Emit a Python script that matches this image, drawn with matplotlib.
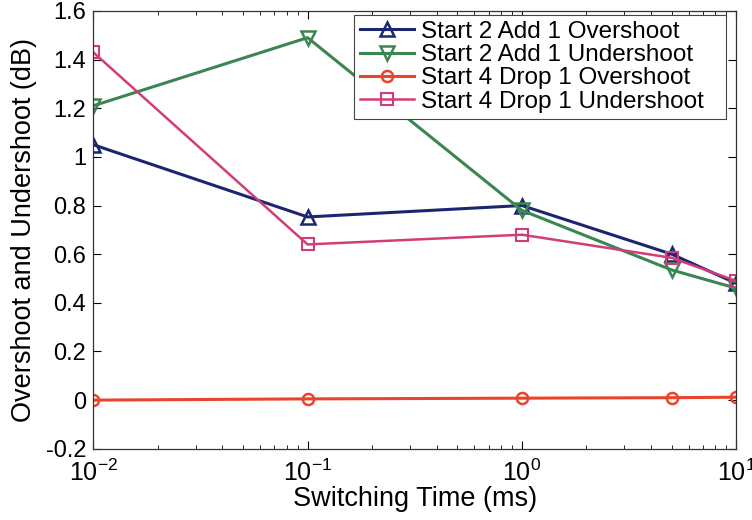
import matplotlib
matplotlib.use("Agg")
import matplotlib.pyplot as plt
from matplotlib.ticker import LogLocator, NullFormatter, FixedLocator, FixedFormatter

plt.rcParams['font.family'] = ['Liberation Sans', 'DejaVu Sans']
plt.rcParams['mathtext.fontset'] = 'custom'
plt.rcParams['mathtext.rm'] = 'Liberation Sans'
plt.rcParams['mathtext.it'] = 'Liberation Sans:italic'
plt.rcParams['mathtext.bf'] = 'Liberation Sans:bold'
plt.rcParams['axes.unicode_minus'] = False

switching_time = [0.01, 0.1, 1, 5, 10]
s2a1_over = [1.05, 0.753, 0.80, 0.60, 0.48]
s2a1_under = [1.21, 1.49, 0.78, 0.535, 0.46]
s4d1_over = [0.0, 0.005, 0.008, 0.01, 0.012]
s4d1_under = [1.43, 0.64, 0.68, 0.585, 0.49]

labels = ["Start 2 Add 1 Overshoot", "Start 2 Add 1 Undershoot",
          "Start 4 Drop 1 Overshoot", "Start 4 Drop 1 Undershoot"]
yticks = [-0.2, 0, 0.2, 0.4, 0.6, 0.8, 1, 1.2, 1.4, 1.6]
ytick_labels = ["-0.2", "0", "0.2", "0.4", "0.6", "0.8", "1", "1.2", "1.4", "1.6"]
xticks = [0.01, 0.1, 1, 10]
xtick_labels = [r"$10^{-2}$", r"$10^{-1}$", r"$10^{0}$", r"$10^{1}$"]

fig = plt.figure(figsize=(7.52, 5.2), dpi=100)
ax = fig.add_axes([0.124, 0.137, 0.855, 0.842])

ax.plot(switching_time, s2a1_over, color='#1c2670', lw=2.2, marker='^', ms=10,
        mfc='none', mew=1.8, label=labels[0])
ax.plot(switching_time, s2a1_under, color='#3a8650', lw=2.2, marker='v', ms=10,
        mfc='none', mew=1.8, label=labels[1])
ax.plot(switching_time, s4d1_over, color='#e8452c', lw=2.2, marker='o', ms=8,
        mfc='none', mew=1.8, label=labels[2])
ax.plot(switching_time, s4d1_under, color='#d23c78', lw=1.8, marker='s', ms=9,
        mfc='none', mew=1.5, label=labels[3])

ax.set_xscale('log')
ax.set_xlim(0.01, 10)
ax.set_ylim(-0.2, 1.6)
ax.yaxis.set_major_locator(FixedLocator(yticks))
ax.yaxis.set_major_formatter(FixedFormatter(ytick_labels))
ax.xaxis.set_major_locator(FixedLocator(xticks))
ax.xaxis.set_major_formatter(FixedFormatter(xtick_labels))
ax.xaxis.set_minor_locator(LogLocator(base=10, subs=range(2, 10), numticks=20))
ax.xaxis.set_minor_formatter(NullFormatter())

ax.tick_params(which='both', direction='in', top=True, right=True, labelsize=17)
ax.tick_params(which='major', length=6, width=0.8)
ax.tick_params(which='minor', length=3, width=0.6)
ax.tick_params(axis='x', which='major', pad=8, labelsize=18)
ax.tick_params(axis='y', which='major', pad=5)
for sp in ax.spines.values():
    sp.set_linewidth(0.9)
    sp.set_color('#333333')

ax.set_xlabel("Switching Time (ms)", fontsize=19.5, labelpad=0)
ax.set_ylabel("Overshoot and Undershoot (dB)", fontsize=19.5, labelpad=6)

leg = ax.legend(loc='upper left', bbox_to_anchor=(0.406, 0.0, 0.578, 0.991),
                mode='expand', fontsize=17.5, frameon=True, fancybox=False,
                edgecolor='#444444', framealpha=1, handlelength=2.2,
                borderpad=0.25, labelspacing=0.05, handletextpad=0.3,
                borderaxespad=0.0)
leg.get_frame().set_linewidth(0.8)

fig.savefig("out.png", dpi=100)
